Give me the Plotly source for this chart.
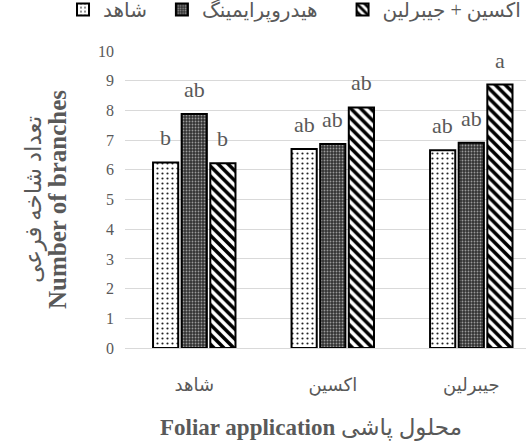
import plotly.graph_objects as go

categories = ["شاهد", "اکسین", "جیبرلین"]
series_names = ["شاهد", "هیدروپرایمینگ", "اکسین + جیبرلین"]
control_vals = [6.25, 6.70, 6.66]
hydro_vals = [7.88, 6.87, 6.91]
auxgib_vals = [6.22, 8.10, 8.87]
control_letters = ["b", "ab", "ab"]
hydro_letters = ["ab", "ab", "ab"]
auxgib_letters = ["b", "ab", "a"]
y_ticks = list(range(0, 11))

GRAY = "#595959"
SERIF = "Liberation Serif, Times New Roman, DejaVu Sans, serif"
NB = "\u00a0"
legend_pads = [2, 4, 0]
series_xshift = [-28.6, 0.0, 28.6]

patterns = [
    dict(shape=".", bgcolor="white", fgcolor="#222", size=5, solidity=0.15, fillmode="replace", fgopacity=1),
    dict(shape=".", bgcolor="#333333", fgcolor="#9a9a9a", size=3, solidity=0.3, fillmode="replace", fgopacity=1),
    dict(shape="\\", bgcolor="white", fgcolor="black", size=7, solidity=0.5, fillmode="replace", fgopacity=1),
]
values = [control_vals, hydro_vals, auxgib_vals]
letters = [control_letters, hydro_letters, auxgib_letters]

fig = go.Figure()
for name, vals, pat, pad in zip(series_names, values, patterns, legend_pads):
    fig.add_trace(go.Bar(
        x=categories, y=vals, name=name + NB * pad,
        marker=dict(color="white", pattern=pat, line=dict(color="black", width=2)),
    ))

for vals, lab, xs in zip(values, letters, series_xshift):
    for c, v, t in zip(categories, vals, lab):
        fig.add_annotation(x=c, y=v, text=t, xref="x", yref="y", showarrow=False,
                           xanchor="center", yanchor="bottom", xshift=xs, yshift=10,
                           font=dict(family=SERIF, size=22, color=GRAY))

fig.update_layout(
    width=526, height=448,
    margin=dict(l=125, r=0, t=51, b=100, autoexpand=False),
    paper_bgcolor="white", plot_bgcolor="white",
    barmode="group", bargap=0.38, bargroupgap=0.12,
    showlegend=True,
    legend=dict(orientation="h", x=-0.1546, xref="paper", xanchor="left",
                y=1.074, yref="paper", yanchor="bottom",
                font=dict(family=SERIF, size=20, color=GRAY), itemwidth=30,
                bgcolor="rgba(0,0,0,0)"),
    font=dict(family=SERIF, color=GRAY),
)
fig.update_yaxes(
    range=[0, 10], tickvals=y_ticks, showgrid=True, gridcolor="#d9d9d9", gridwidth=1,
    zeroline=False, showline=False, ticks="", ticklabelstandoff=10, automargin=False,
    tickfont=dict(family=SERIF, size=16, color=GRAY),
    title=dict(text="<span style='font-size:23px'>تعداد شاخه فرعی</span><br><b style='font-size:25px'>Number of branches</b>",
               font=dict(family=SERIF, size=19, color=GRAY), standoff=26),
)
fig.update_xaxes(
    range=[-0.5, 2.395], showgrid=False, zeroline=False, showline=True, linecolor="#d9d9d9",
    ticks="", ticklabelstandoff=20, automargin=False,
    tickfont=dict(family=SERIF, size=18, color=GRAY),
)
fig.add_annotation(
    text="<b>Foliar application</b> محلول پاشی", xref="paper", yref="paper",
    x=0.464, y=-0.27, xanchor="center", yanchor="middle", showarrow=False,
    font=dict(family=SERIF, size=23, color=GRAY),
)

fig.write_html("out.html", config={"displayModeBar": False},
               post_script="document.body.style.margin='0';document.body.style.overflow='hidden';")
